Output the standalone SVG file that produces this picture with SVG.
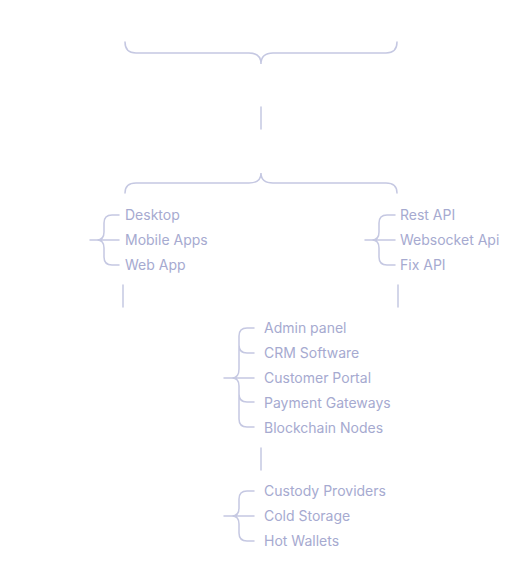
<svg xmlns="http://www.w3.org/2000/svg" width="520" height="561" viewBox="0 0 520 561">
<style>
.ln{fill:none;stroke:#c5c8e2;stroke-width:1.5;stroke-linecap:round}
.t{font-family:Inter,"Liberation Sans",sans-serif;font-size:14px;fill:#a6aad0}
</style>
<rect width="520" height="561" fill="#ffffff"/>
<g id="connectors">
<path class="ln" d="M125,42 Q125,53 136,53 H249 Q261,53 261,64 Q261,53 273,53 H386 Q397,53 397,42"/>
<path class="ln" d="M261,107 V129"/>
<path class="ln" d="M125,193 Q125,183 136,183 H249 Q261,183 261,173 Q261,183 273,183 H386 Q397,183 397,193"/>
<path class="ln" d="M123,285 V307"/>
<path class="ln" d="M398,285 V307"/>
<path class="ln" d="M261,448 V470"/>
</g>
<g id="clients">
<path class="ln" d="M90,240 H119 M119,215 H112 Q104,215 104,223 V232 Q104,240 97,240 Q104,240 104,248 V257 Q104,265 112,265 H119"/>
<text class="t" x="125" y="220">Desktop</text>
<text class="t" x="125" y="245">Mobile Apps</text>
<text class="t" x="125" y="270">Web App</text>
</g>
<g id="apis">
<path class="ln" d="M365,240 H395 M395,215 H387 Q379,215 379,223 V232 Q379,240 372,240 Q379,240 379,248 V257 Q379,265 387,265 H395"/>
<text class="t" x="400" y="220">Rest API</text>
<text class="t" x="400" y="245">Websocket Api</text>
<text class="t" x="400" y="270">Fix API</text>
</g>
<g id="backoffice">
<path class="ln" d="M224,378 H254 M254,328 H247 Q239,328 239,336 V369 Q239,378 232,378 Q239,378 239,386 V419 Q239,427 247,427 H254 M239,345 Q239,353 247,353 H254 M239,394 Q239,402 247,402 H254"/>
<text class="t" x="264" y="333">Admin panel</text>
<text class="t" x="264" y="358">CRM Software</text>
<text class="t" x="264" y="383">Customer Portal</text>
<text class="t" x="264" y="408">Payment Gateways</text>
<text class="t" x="264" y="433">Blockchain Nodes</text>
</g>
<g id="storage">
<path class="ln" d="M224,516 H254 M254,491 H247 Q239,491 239,499 V508 Q239,516 232,516 Q239,516 239,524 V533 Q239,541 247,541 H254"/>
<text class="t" x="264" y="496">Custody Providers</text>
<text class="t" x="264" y="521">Cold Storage</text>
<text class="t" x="264" y="546">Hot Wallets</text>
</g>
</svg>
